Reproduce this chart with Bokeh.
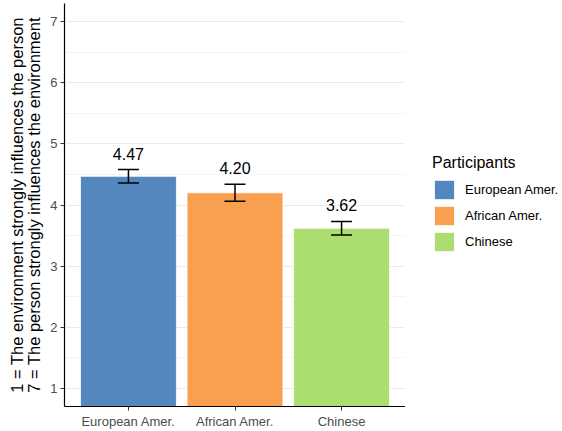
from bokeh.plotting import figure
from bokeh.layouts import row
from bokeh.models import (ColumnDataSource, FactorRange, Range1d, Whisker, TeeHead,
                          FixedTicker, Legend, LegendItem)
from bokeh.core.properties import value
from bokeh.embed import file_html
from bokeh.resources import INLINE

# ---- data ----
groups = ["European Amer.", "African Amer.", "Chinese"]
means = [4.47, 4.20, 3.62]
errors = [0.11, 0.14, 0.11]
labels = ["4.47", "4.20", "3.62"]
colors = ["#5387BE", "#F9A050", "#ACDD71"]
y_ticks = [1, 2, 3, 4, 5, 6, 7]
y_minor = [1.5, 2.5, 3.5, 4.5, 5.5, 6.5]
y_title = "1 = The environment strongly influences the person\n7 = The person strongly influences the environment"
legend_title = "Participants"

FONT = "Liberation Sans"

src = ColumnDataSource(dict(
    group=groups,
    mean=means,
    upper=[m + e for m, e in zip(means, errors)],
    lower=[m - e for m, e in zip(means, errors)],
    label=labels,
    color=colors,
))

p = figure(
    x_range=FactorRange(factors=groups, range_padding=0.2 / 3, range_padding_units="percent"),
    y_range=Range1d(0.7, 7.3),
    width=405, height=431,
    output_backend="svg", toolbar_location=None,
    min_border_left=64, min_border_right=0, min_border_top=3, min_border_bottom=23,
    background_fill_color="white", border_fill_color="white",
)
p.outline_line_color = None

bars = p.vbar(x="group", top="mean", bottom=0, width=0.9, source=src,
              fill_color="color", line_color="white", line_width=0.8)

whisk = Whisker(source=src, base="group", upper="upper", lower="lower",
                line_color="black", line_width=1.5, level="overlay",
                upper_head=TeeHead(size=21, line_color="black", line_width=1.5),
                lower_head=TeeHead(size=21, line_color="black", line_width=1.5))
p.add_layout(whisk)

p.text(x="group", y="upper", text="label", source=src, y_offset=-16,
       text_align="center", text_baseline="alphabetic",
       text_font=value(FONT), text_font_size="16px", text_color="black")

# axes
p.yaxis.ticker = FixedTicker(ticks=y_ticks, minor_ticks=y_minor)
p.xgrid.grid_line_color = None
p.ygrid.grid_line_color = "#ebebeb"
p.ygrid.grid_line_width = 1
p.ygrid.minor_grid_line_color = "#f4f4f4"
p.ygrid.minor_grid_line_width = 1

for ax in (p.xaxis[0], p.yaxis[0]):
    ax.axis_line_color = "black"
    ax.axis_line_width = 1.2
    ax.major_tick_line_color = "#333333"
    ax.major_tick_out = 4
    ax.major_tick_in = 0
    ax.minor_tick_line_color = None
    ax.major_label_text_font = FONT
    ax.major_label_text_font_size = "13px"
    ax.major_label_text_color = "#4d4d4d"
    ax.major_label_standoff = 3

p.yaxis.axis_label = y_title
p.yaxis.axis_label_text_font = FONT
p.yaxis.axis_label_text_font_size = "16.5px"
p.yaxis.axis_label_text_font_style = "normal"
p.yaxis.axis_label_text_color = "black"
p.yaxis.axis_label_text_line_height = 0.95
p.yaxis.axis_label_standoff = 4

# ---- legend panel (separate figure to the right) ----
lf = figure(
    x_range=FactorRange(factors=groups), y_range=Range1d(100, 101),
    width=157, height=431, output_backend="svg", toolbar_location=None,
    x_axis_type=None, y_axis_type=None,
    min_border_left=0, min_border_right=0, min_border_top=0, min_border_bottom=0,
    background_fill_color="white", border_fill_color="white",
)
lf.outline_line_color = None
lf.grid.visible = False
# zero-size proxy bars (draw nothing); they only feed the legend keys
keys = lf.vbar(x="group", top="mean", bottom="mean", width=0, source=src,
               fill_color="color", line_color=None)

legend = Legend(
    items=[LegendItem(label=g, renderers=[keys], index=i) for i, g in enumerate(groups)],
    title=legend_title,
    location=(27, 153),
    title_text_font=FONT, title_text_font_size="16px", title_text_font_style="normal",
    title_text_color="black", title_standoff=6,
    label_text_font=FONT, label_text_font_size="13px", label_text_color="black",
    glyph_width=24, glyph_height=23, spacing=3, label_standoff=9,
    padding=0, margin=0, border_line_color=None, background_fill_alpha=0,
)
lf.add_layout(legend)

layout = row(p, lf, spacing=0)
open("out.html", "w").write(file_html(layout, INLINE))
